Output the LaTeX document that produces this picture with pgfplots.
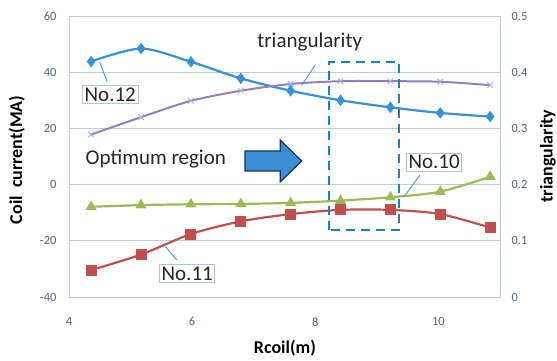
\documentclass[border=0pt]{standalone}
\usepackage{fontspec}
\setmainfont{Carlito}
\usepackage{pgfplots}
\pgfplotsset{compat=1.18}
\definecolor{gridc}{RGB}{185,204,226}
\definecolor{tickc}{RGB}{75,100,130}
\definecolor{c12}{RGB}{55,145,212}
\definecolor{c11}{RGB}{192,80,77}
\definecolor{c10}{RGB}{155,187,89}
\definecolor{ctri}{RGB}{150,125,190}
\definecolor{ctrim}{RGB}{150,185,225}
\definecolor{boxc}{RGB}{170,198,228}
\definecolor{dashc}{RGB}{30,125,195}
\definecolor{arrowc}{RGB}{58,142,212}
\definecolor{arrowd}{RGB}{25,50,80}
\begin{document}
\begin{tikzpicture}
\useasboundingbox (0,0) rectangle (557pt,361pt);
\begin{axis}[
  at={(69pt,64pt)}, anchor=south west,
  scale only axis, width=431pt, height=281pt,
  xmin=4, xmax=11, ymin=-40, ymax=60,
  xtick={4,6,8,10}, ytick={-40,-20,0,20,40,60},
  ymajorgrids, grid style={gridc, line width=0.8pt},
  axis line style={gridc, line width=0.8pt},
  major tick length=0pt,
  tick label style={font=\fontsize{12.5}{14}\selectfont, text=tickc},
  /pgf/number format/assume math mode=true,
  yticklabel style={xshift=-9pt},
  xticklabel style={yshift=-17pt},
  xlabel={Rcoil(m)}, ylabel={Coil\ \ current(MA)},
  label style={font=\bfseries\fontsize{18}{20}\selectfont, text=black},
  xlabel style={at={(axis description cs:0.501,-0.181)}, anchor=center},
  ylabel style={at={(axis description cs:-0.121,0.488)}, anchor=center},
]
\addplot[c12, line width=2.2pt, smooth, mark=diamond*, mark size=4pt, mark options={fill=c12}]
  coordinates {(4.36,43.8) (5.17,48.4) (5.98,43.7) (6.79,37.8) (7.60,33.4) (8.41,30.0) (9.22,27.5) (10.03,25.5) (10.84,24.2)};
\addplot[c11, line width=2.2pt, smooth, mark=square*, mark size=4.4pt, mark options={fill=c11}]
  coordinates {(4.36,-30.4) (5.17,-24.9) (5.98,-17.6) (6.79,-13.1) (7.60,-10.5) (8.41,-9.0) (9.22,-9.0) (10.03,-10.5) (10.84,-15.3)};
\addplot[c10, line width=2.2pt, smooth, mark=triangle*, mark size=4.2pt, mark options={fill=c10}]
  coordinates {(4.36,-7.9) (5.17,-7.3) (5.98,-7.0) (6.79,-6.9) (7.60,-6.5) (8.41,-5.7) (9.22,-4.5) (10.03,-2.5) (10.84,2.8)};
\end{axis}
\begin{axis}[
  at={(69pt,64pt)}, anchor=south west,
  scale only axis, width=431pt, height=281pt,
  xmin=4, xmax=11, ymin=0, ymax=0.5,
  axis x line=none, axis y line*=right,
  ytick={0,0.1,0.2,0.3,0.4,0.5},
  yticklabels={0,0.1,0.2,0.3,0.4,0.5},
  axis line style={gridc, line width=0.8pt},
  major tick length=0pt,
  tick label style={font=\fontsize{12.5}{14}\selectfont, text=tickc},
  yticklabel style={xshift=8pt},
  ylabel={triangularity},
  label style={font=\bfseries\fontsize{18}{20}\selectfont, text=black},
  ylabel style={at={(axis description cs:1.111,0.502)}, anchor=center},
  clip=false,
]
\addplot[ctri, line width=2pt, smooth, mark=x, mark size=4pt, mark options={ctrim, line width=1pt}]
  coordinates {(4.36,0.289) (5.17,0.320) (5.98,0.349) (6.79,0.367) (7.60,0.379) (8.41,0.384) (9.22,0.384) (10.03,0.383) (10.84,0.377)};
% annotations
\draw[dashc, line width=2.2pt, dash pattern=on 9pt off 6pt] (axis cs:8.22,0.119) rectangle (axis cs:9.36,0.418);
\draw[arrowd, fill=arrowc, line width=1.2pt]
  (axis cs:6.86,0.2242) -- (axis cs:7.43,0.2242) -- (axis cs:7.43,0.2047) -- (axis cs:7.78,0.242)
  -- (axis cs:7.43,0.2794) -- (axis cs:7.43,0.2598) -- (axis cs:6.86,0.2598) -- cycle;
\draw[c12, line width=0.8pt] (axis cs:8.0,0.413) -- (axis cs:7.78,0.377);
\draw[c12, line width=0.8pt] (axis cs:4.50,0.418) -- (axis cs:4.62,0.3825);
\draw[c12, line width=0.8pt] (axis cs:9.70,0.217) -- (axis cs:9.44,0.178);
\draw[c12, line width=0.8pt] (axis cs:5.75,0.066) -- (axis cs:5.53,0.0945);
\node[font=\fontsize{21}{23}\selectfont, text=black!85] at (axis cs:7.91,0.4535) {triangularity};
\node[font=\fontsize{21}{23}\selectfont, text=black!85] at (axis cs:5.41,0.2455) {Optimum region};
\node[font=\fontsize{21}{23}\selectfont, text=black!85, draw=boxc, fill=white, inner sep=2pt, line width=0.7pt] at (axis cs:4.67,0.3605) {No.12};
\node[font=\fontsize{21}{23}\selectfont, text=black!85, draw=boxc, fill=white, inner sep=2pt, line width=0.7pt] at (axis cs:9.93,0.24) {No.10};
\node[font=\fontsize{21}{23}\selectfont, text=black!85, draw=boxc, fill=white, inner sep=2pt, line width=0.7pt] at (axis cs:5.92,0.042) {No.11};
\end{axis}
\end{tikzpicture}
\end{document}
